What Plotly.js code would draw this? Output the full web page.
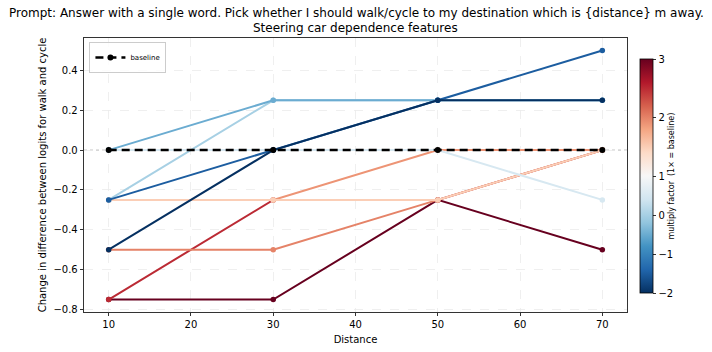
<!DOCTYPE html>
<html>
<head>
<meta charset="utf-8">
<script src="https://cdn.plot.ly/plotly-3.0.1.min.js"></script>
<style>html,body{margin:0;padding:0;background:#fff;}#chart{width:712px;height:352px;}</style>
</head>
<body>
<div id="chart"></div>
<script>
// ---- data ----
const distances = [10, 30, 50, 70];
const factors = [3, 2.5, 2, 1.9, 1.5, 0.5, 0, -0.5, -1.5, -2];
const f3    = [-0.75, -0.75, -0.25, -0.5];
const f2_5  = [-0.75, -0.25, -0.25, 0];
const f2    = [-0.5, -0.5, -0.25, 0];
const f1_9  = [-0.25, -0.25, 0, 0];
const f1_5  = [-0.25, -0.25, -0.25, 0];
const f0_5  = [0, 0, 0, -0.25];
const f0    = [-0.25, 0.25, 0.25, 0.25];
const fm0_5 = [0, 0.25, 0.25, 0.25];
const fm1_5 = [-0.25, 0, 0.25, 0.5];
const fm2   = [-0.5, 0, 0.25, 0.25];
const baseline = [0, 0, 0, 0];
const seriesValues = [f3, f2_5, f2, f1_9, f1_5, f0_5, f0, fm0_5, fm1_5, fm2];
const cbTickValues = [-2, -1, 0, 1, 2, 3];
const cbTickText = ['\u22122', '\u22121', '0', '1', '2', '3'];
const xTicks = [10, 20, 30, 40, 50, 60, 70];
const titleLines = [
  'Prompt: Answer with a single word. Pick whether I should walk/cycle to my destination which is {distance} m away.',
  'Steering car dependence features'
];

// ---- colour mapping (RdBu_r, two-slope norm centred on 1) ----
const rdbu = ['#053061','#2166ac','#4393c3','#92c5de','#d1e5f0','#f7f7f7','#fddbc7','#f4a582','#d6604d','#b2182b','#67001f'];
const vmin = -2, vcenter = 1, vmax = 3;
function norm(v) {
  return v < vcenter ? 0.5 * (v - vmin) / (vcenter - vmin) : 0.5 + 0.5 * (v - vcenter) / (vmax - vcenter);
}
function hex2rgb(h) { return [1,3,5].map(i => parseInt(h.substr(i, 2), 16)); }
function colorAt(t) {
  t = Math.max(0, Math.min(1, t));
  const p = t * 10, i = Math.min(9, Math.floor(p)), f = p - i;
  const a = hex2rgb(rdbu[i]), b = hex2rgb(rdbu[i + 1]);
  const c = a.map((v, k) => Math.round(v + (b[k] - v) * f));
  return 'rgb(' + c.join(',') + ')';
}
const colorscale = rdbu.map((c, i) => [i / 10, c]);

const traces = [];
factors.forEach((f, i) => {
  const col = colorAt(norm(f));
  traces.push({
    x: distances, y: seriesValues[i], type: 'scatter', mode: 'lines+markers',
    line: {color: col, width: 2}, marker: {color: col, size: 5.5},
    showlegend: false, hoverinfo: 'skip'
  });
});
traces.push({
  x: distances, y: baseline, type: 'scatter', mode: 'lines+markers', name: 'baseline',
  line: {color: '#000', width: 2.5, dash: '8px,5px'}, marker: {color: '#000', size: 6},
  showlegend: true
});
// invisible trace carrying the colour bar
traces.push({
  x: [distances[0], distances[0]], y: [baseline[0], baseline[0]], type: 'scatter', mode: 'markers',
  showlegend: false, hoverinfo: 'skip',
  marker: {
    size: 1, opacity: 0, color: [0, 1], cmin: 0, cmax: 1, colorscale: colorscale, showscale: true,
    colorbar: {
      x: 1.0235, xanchor: 'left', xpad: 0, y: 0.496, yanchor: 'middle', ypad: 0,
      thickness: 13, len: 234, lenmode: 'pixels',
      outlinewidth: 0.8, outlinecolor: '#000',
      tickvals: cbTickValues.map(norm), ticktext: cbTickText,
      ticks: 'outside', ticklen: 3.5, tickwidth: 0.8, tickcolor: '#000',
      tickfont: {family: 'DejaVu Sans', size: 10, color: '#000'},
      title: {text: 'multiply factor  (1\u00d7 = baseline)', side: 'right',
              font: {family: 'DejaVu Sans', size: 8, color: '#000'}}
    }
  }
});

const plotTop = 38, plotH = 352 - 38 - 39.5;
const layout = {
  width: 712, height: 352,
  margin: {l: 84, r: 85, t: plotTop, b: 39.5, pad: 0},
  paper_bgcolor: '#fff', plot_bgcolor: '#fff',
  font: {family: 'DejaVu Sans', color: '#000', size: 10},
  annotations: [
    {text: titleLines[0], xref: 'paper', x: 0.5015, xanchor: 'center', yref: 'paper', y: 1 + (plotTop - 12.5) / plotH, yanchor: 'middle',
     showarrow: false, font: {family: 'DejaVu Sans', size: 12, color: '#000'}},
    {text: titleLines[1], xref: 'paper', x: 0.5, xanchor: 'center', yref: 'paper', y: 1 + (plotTop - 28) / plotH, yanchor: 'middle',
     showarrow: false, font: {family: 'DejaVu Sans', size: 12, color: '#000'}}
  ],
  xaxis: {
    range: [7, 73], tickvals: xTicks, ticks: 'outside', ticklen: 3.5, tickwidth: 0.8, tickcolor: '#000',
    showline: true, linecolor: '#000', linewidth: 0.8, mirror: true, zeroline: false,
    showgrid: true, gridcolor: '#ebebeb', gridwidth: 0.8, griddash: 'dash',
    tickfont: {family: 'DejaVu Sans', size: 10, color: '#000'},
    title: {text: 'Distance', standoff: 6, font: {family: 'DejaVu Sans', size: 10, color: '#000'}}
  },
  yaxis: {
    range: [-0.8125, 0.5625], dtick: 0.2, tick0: 0, tickformat: '.1f', ticks: 'outside', ticklen: 3.5, tickwidth: 0.8, tickcolor: '#000',
    showline: true, linecolor: '#000', linewidth: 0.8, mirror: true, zeroline: false,
    showgrid: true, gridcolor: '#ebebeb', gridwidth: 0.8, griddash: 'dash',
    tickfont: {family: 'DejaVu Sans', size: 10, color: '#000'},
    title: {text: 'Change in difference between logits for walk and cycle', standoff: 4, font: {family: 'DejaVu Sans', size: 10, color: '#000'}}
  },
  shapes: [{type: 'line', xref: 'paper', x0: 0, x1: 1, yref: 'y', y0: 0, y1: 0, layer: 'below',
            line: {color: '#aaaaaa', width: 0.8, dash: 'dot'}}],
  legend: {x: 0.01, y: 0.985, xanchor: 'left', yanchor: 'top', bgcolor: 'rgba(255,255,255,0.8)',
           bordercolor: '#cccccc', borderwidth: 1, font: {family: 'DejaVu Sans', size: 7, color: '#000'},
           itemwidth: 30, tracegroupgap: 0},
  showlegend: true
};
Plotly.newPlot('chart', traces, layout, {displayModeBar: false, staticPlot: true});
</script>
</body>
</html>
